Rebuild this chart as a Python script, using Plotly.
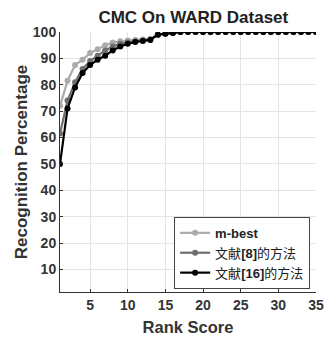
import plotly.graph_objects as go

rank = list(range(1, 36))

m_best = [72, 81.5, 87.5, 89.5, 92, 93.5, 95, 96, 96.5, 96.8, 97, 97.2, 97.4, 99, 99.3, 99.6, 100,
          100, 100, 100, 100, 100, 100, 100, 100, 100, 100, 100, 100, 100, 100, 100, 100, 100, 100]
ref8 = [61.5, 74, 81, 86, 89, 91, 93, 94.5, 95.5, 96, 96.5, 96.8, 97.1, 99, 99.3, 99.6, 100,
        100, 100, 100, 100, 100, 100, 100, 100, 100, 100, 100, 100, 100, 100, 100, 100, 100, 100]
ref16 = [50, 71, 79, 84.5, 87.5, 89.5, 91, 93, 94.5, 95.5, 96.2, 96.6, 97, 99, 99.3, 99.6, 100,
         100, 100, 100, 100, 100, 100, 100, 100, 100, 100, 100, 100, 100, 100, 100, 100, 100, 100]

names = ["<b>m-best</b>", "文献<b>[8]</b>的方法", "文献<b>[16]</b>的方法"]
colors = ["#ababab", "#6e6e6e", "#000000"]
series = [m_best, ref8, ref16]

x_ticks = [5, 10, 15, 20, 25, 30, 35]
y_ticks = [10, 20, 30, 40, 50, 60, 70, 80, 90, 100]

fig = go.Figure()
for name, col, ys in zip(names, colors, series):
    fig.add_trace(go.Scatter(
        x=rank, y=ys, name=name, mode="lines+markers",
        line=dict(color=col, width=2.2),
        marker=dict(color=col, size=6, symbol="circle"),
    ))

# page body has an 8px default margin, so the figure is sized to fit the window
fig.update_layout(
    width=328, height=337,
    margin=dict(l=52, r=13, t=24, b=48),
    paper_bgcolor="white", plot_bgcolor="white",
    font=dict(family="Liberation Sans, Arial, Noto Sans CJK SC", color="#333333", size=14),
    title=dict(text="<b>CMC On WARD Dataset</b>", x=0.565, xanchor="center",
               y=0.972, yanchor="middle",
               font=dict(size=17, color="#222222")),
    showlegend=True,
    legend=dict(x=0.977, y=0.012, xanchor="right", yanchor="bottom",
                bgcolor="white", bordercolor="#444444", borderwidth=1,
                font=dict(size=13, color="#222222", family="Liberation Sans, Noto Sans CJK SC"),
                tracegroupgap=0, itemwidth=30),
)
fig.update_xaxes(
    range=[1, 35], tickvals=x_ticks, ticktext=[f"<b>{v}</b>" for v in x_ticks],
    showgrid=True, gridcolor="#e4e4e4", gridwidth=1,
    showline=True, linecolor="#333333", linewidth=1,
    ticks="inside", ticklen=3, tickcolor="#333333",
    zeroline=False,
    title=dict(text="<b>Rank Score</b>", font=dict(size=16.5, color="#333333"), standoff=9),
    tickfont=dict(size=14, color="#333333"),
)
fig.update_yaxes(
    range=[1.45, 100], tickvals=y_ticks, ticktext=[f"<b>{v}</b>" for v in y_ticks],
    showgrid=True, gridcolor="#e4e4e4", gridwidth=1,
    showline=True, linecolor="#333333", linewidth=1,
    ticks="inside", ticklen=3, tickcolor="#333333",
    zeroline=False,
    title=dict(text="<b>Recognition Percentage</b>", font=dict(size=17, color="#333333"), standoff=0),
    tickfont=dict(size=14, color="#333333"),
)

fig.write_html("out.html")
